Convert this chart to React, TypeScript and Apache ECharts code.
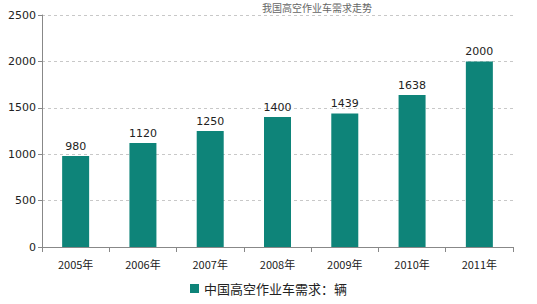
import React, { useEffect, useRef } from "react";
import * as echarts from "echarts";

const categories = ["2005年", "2006年", "2007年", "2008年", "2009年", "2010年", "2011年"];
const demand = [980, 1120, 1250, 1400, 1439, 1638, 2000];
const seriesName = "中国高空作业车需求：辆";
const titleText = "我国高空作业车需求走势";

export default function App() {
  const ref = useRef<HTMLDivElement>(null);
  useEffect(() => {
    const chart = echarts.init(ref.current!, null, { renderer: "svg" });
    chart.setOption({
      animation: false,
      backgroundColor: "#ffffff",
      textStyle: { fontFamily: "DejaVu Sans" },
      graphic: [
        {
          type: "text",
          left: 262,
          top: 2,
          style: { text: titleText, fill: "#666", font: "10px 'Noto Sans CJK SC'" },
        },
      ],
      grid: { left: 42, right: 24, top: 15, bottom: 57 },
      legend: {
        bottom: 4,
        left: "center",
        itemWidth: 9,
        itemHeight: 9,
        icon: "rect",
        itemGap: 4,
        textStyle: { fontSize: 13, color: "#222", fontFamily: "Noto Sans CJK SC" },
        data: [seriesName],
      },
      xAxis: {
        type: "category",
        data: categories,
        axisLine: { lineStyle: { color: "#888" } },
        axisTick: { show: true, alignWithLabel: false, length: 5, lineStyle: { color: "#888" } },
        axisLabel: { color: "#222", fontSize: 11, margin: 11, fontFamily: "Noto Sans CJK SC" },
      },
      yAxis: {
        type: "value",
        min: 0,
        max: 2500,
        interval: 500,
        axisLine: { show: true, lineStyle: { color: "#888" } },
        axisTick: { show: true, inside: false, length: 4, lineStyle: { color: "#888" } },
        axisLabel: { color: "#222", fontSize: 11, margin: 6, formatter: (v: number) => String(v) },
        splitLine: { lineStyle: { color: "#c8c8c8", type: [3, 3] } },
      },
      series: [
        {
          name: seriesName,
          type: "bar",
          data: demand,
          barWidth: 27,
          itemStyle: { color: "#0e8479" },
          label: { show: true, position: "top", color: "#222", fontSize: 11, distance: 4 },
        },
      ],
    });
    return () => chart.dispose();
  }, []);
  return <div ref={ref} style={{ width: 537, height: 304, position: "absolute", left: 0, top: 0 }} />;
}
